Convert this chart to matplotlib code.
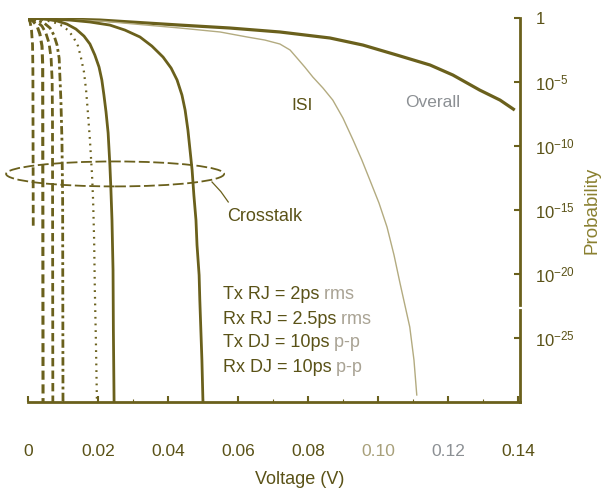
import matplotlib
matplotlib.use('Agg')
import matplotlib.pyplot as plt
from matplotlib.patches import Ellipse
from matplotlib.ticker import NullLocator, MultipleLocator
import numpy as np

# ---------------- data (voltage in V, log10 of probability) ----------------
overall_v = [0, 0.0206, 0.0434, 0.0577, 0.072, 0.0863, 0.0957, 0.1054, 0.1149, 0.1214, 0.1291, 0.1349, 0.1391]
overall_e = [0, -0.16, -0.55, -0.78, -1.09, -1.56, -2.11, -2.89, -3.67, -4.45, -5.63, -6.41, -7.19]

isi_v = [0, 0.0206, 0.0434, 0.0549, 0.0626, 0.0677, 0.072, 0.0749, 0.0769, 0.0791, 0.0814, 0.0843,
         0.0871, 0.09, 0.0929, 0.0954, 0.0977, 0.1003, 0.1026, 0.1046, 0.1063, 0.1077, 0.1091, 0.1103, 0.1111]
isi_e = [0, -0.23, -0.78, -1.09, -1.48, -1.72, -2.03, -2.5, -3.13, -3.83, -4.61, -5.47,
         -6.41, -7.81, -9.53, -11.09, -12.66, -14.45, -16.33, -18.52, -20.7, -22.42, -24.14, -26.72, -29.45]

rj_outer_v = [0, 0.0063, 0.012, 0.0177, 0.0234, 0.0277, 0.032, 0.0354, 0.0386, 0.0409, 0.0426, 0.044,
              0.0449, 0.0457, 0.0463, 0.0469, 0.0474, 0.048, 0.0483, 0.0489, 0.0491, 0.0494, 0.0497, 0.05]
rj_outer_e = [0, -0.08, -0.16, -0.31, -0.55, -0.94, -1.48, -2.19, -3.05, -3.91, -4.84, -6.02,
              -7.19, -8.75, -10.31, -11.88, -13.83, -15.78, -17.73, -20.08, -22.03, -24.38, -26.72, -30]

rj_inner_v = [0, 0.0049, 0.0083, 0.0111, 0.0137, 0.016, 0.0177, 0.0191, 0.0203, 0.0211, 0.0217,
              0.0223, 0.0229, 0.0234, 0.0237, 0.024, 0.0243, 0.0244, 0.0246]
rj_inner_e = [0, -0.08, -0.23, -0.47, -0.86, -1.41, -2.03, -2.89, -3.83, -4.84, -6.02,
              -7.34, -8.98, -11.48, -13.44, -15.78, -19.69, -24.38, -30]

dotted_v = [0, 0.0049, 0.008, 0.01, 0.0117, 0.0131, 0.0143, 0.0151, 0.016, 0.0166, 0.0171,
            0.0177, 0.0183, 0.0186, 0.0189, 0.0191, 0.0194, 0.0197]
dotted_e = [0, -0.16, -0.39, -0.63, -1.02, -1.56, -2.19, -3.05, -4.22, -5.63, -7.34,
            -9.53, -12.27, -14.22, -17.34, -21.25, -25.16, -30]

dashdot_v = [0, 0.0026, 0.0046, 0.0063, 0.0074, 0.0083, 0.0089, 0.0091, 0.0094, 0.0097, 0.0099, 0.01]
dashdot_e = [0, -0.16, -0.39, -0.78, -1.33, -2.11, -3.13, -4.45, -6.41, -9.53, -14.22, -30]

dashed_c_v = [0, 0.0023, 0.004, 0.0051, 0.006, 0.0066, 0.0069, 0.007, 0.0071]
dashed_c_e = [0, -0.23, -0.63, -1.17, -1.95, -3.13, -4.84, -7.97, -30]

dashed_b_v = [0, 0.0014, 0.0026, 0.0034, 0.004, 0.0042, 0.0043]
dashed_b_e = [0, -0.23, -0.63, -1.25, -2.19, -3.67, -30]

dashed_a_v = [0, 0.0006, 0.001, 0.0013, 0.0014, 0.0015]
dashed_a_e = [0, -0.31, -0.94, -2.11, -4.06, -16.33]

x_ticks = [0, 0.02, 0.04, 0.06, 0.08, 0.10, 0.12, 0.14]
x_tick_labels = ['0', '0.02', '0.04', '0.06', '0.08', '0.10', '0.12', '0.14']
y_ticks = [1, 1e-5, 1e-10, 1e-15, 1e-20, 1e-25]
y_tick_labels = ['1', r'$10^{-5}$', r'$10^{-10}$', r'$10^{-15}$', r'$10^{-20}$', r'$10^{-25}$']
param_main = ['Tx RJ = 2ps', 'Rx RJ = 2.5ps', 'Tx DJ = 10ps', 'Rx DJ = 10ps']
param_unit = [' rms', ' rms', ' p-p', ' p-p']

# ---------------- style ----------------
plt.rcParams['font.family'] = ['Liberation Sans', 'DejaVu Sans']
plt.rcParams['mathtext.fontset'] = 'custom'
plt.rcParams['mathtext.rm'] = 'Liberation Sans'
plt.rcParams['mathtext.it'] = 'Liberation Sans:italic'
plt.rcParams['mathtext.default'] = 'regular'

OLIVE = '#6a601c'
TEXT = '#5a5217'
LIGHT = '#b3ab80'
GREY = '#8c9094'

fig = plt.figure(figsize=(6.14, 4.97), dpi=100)
ax = fig.add_axes([0.0456, 0.1911, 0.8013, 0.7726])

def P(e):
    return 10.0 ** np.asarray(e, dtype=float)

ax.plot(overall_v, P(overall_e), color=OLIVE, lw=2.3, solid_capstyle='butt')
ax.plot(isi_v, P(isi_e), color=LIGHT, lw=1.0)
ax.plot(rj_outer_v, P(rj_outer_e), color=OLIVE, lw=2.0)
ax.plot(rj_inner_v, P(rj_inner_e), color=OLIVE, lw=2.0)
ax.plot(dotted_v, P(dotted_e), color=OLIVE, lw=1.6, linestyle=(0, (0.8, 2.2)))
ax.plot(dashdot_v, P(dashdot_e), color=OLIVE, lw=2.0, linestyle=(0, (3, 1.2, 1, 1.2)))
ax.plot(dashed_c_v, P(dashed_c_e), color=OLIVE, lw=2.0, linestyle=(0, (3, 1.5)))
ax.plot(dashed_b_v, P(dashed_b_e), color=OLIVE, lw=2.2, linestyle=(0, (3, 1.5)))
ax.plot(dashed_a_v, P(dashed_a_e), color=OLIVE, lw=2.0, linestyle=(0, (3, 1.5)))

ax.set_yscale('log')
ax.set_xlim(0, 0.1406)
ax.set_ylim(1e-30, 1)

for s in ['left', 'top']:
    ax.spines[s].set_visible(False)
for s in ['right', 'bottom']:
    ax.spines[s].set_color(OLIVE)
    ax.spines[s].set_linewidth(2.0)
# small break in the right axis line, as in the scanned original
ax.spines['right'].set_bounds(10.0 ** -22.4, 1)
ax.plot([1, 1], [0, 0.24], transform=ax.transAxes, color=OLIVE, lw=2.0,
        clip_on=False, solid_capstyle='projecting')

ax.yaxis.tick_right()
ax.set_yticks(y_ticks)
ax.set_yticklabels(y_tick_labels)
ax.yaxis.set_minor_locator(NullLocator())
ax.tick_params(axis='y', which='major', direction='in', length=4, width=1.5,
               color=OLIVE, labelcolor=TEXT, labelsize=12, pad=11)

ax.set_xticks(x_ticks)
ax.set_xticklabels(x_tick_labels)
ax.xaxis.set_minor_locator(MultipleLocator(0.01))
ax.tick_params(axis='x', which='major', direction='in', length=4, width=1.5,
               color=OLIVE, labelcolor=TEXT, labelsize=12.5, pad=30)
ax.tick_params(axis='x', which='minor', direction='in', length=2, width=0.8, color=OLIVE)
for lbl in ax.get_xticklabels():
    if lbl.get_text() == '0.10':
        lbl.set_color('#a8a07a')
    elif lbl.get_text() == '0.12':
        lbl.set_color(GREY)

ax.set_xlabel('Voltage (V)', fontsize=13, color=TEXT, va='center')
ax.xaxis.set_label_coords(0.553, -0.203)
ax.yaxis.set_label_position('right')
ax.set_ylabel('Probability', fontsize=13.5, color='#8a8030', rotation=90, va='center')
ax.yaxis.set_label_coords(1.146, 0.5)

# Crosstalk ellipse and leader
ell = Ellipse((0.177, 0.594), 0.443, 0.065, transform=ax.transAxes, fill=False,
              edgecolor=OLIVE, lw=1.3, linestyle=(0, (6, 2)), clip_on=False)
ax.add_patch(ell)
ax.plot([0.374, 0.392, 0.407], [0.573, 0.548, 0.521], transform=ax.transAxes,
        color=OLIVE, lw=0.9, clip_on=False)
ax.text(0.404, 0.482, 'Crosstalk', transform=ax.transAxes, fontsize=13,
        color=TEXT, ha='left', va='center')

ax.text(0.557, 0.773, 'ISI', transform=ax.transAxes, fontsize=12.5,
        color=TEXT, ha='center', va='center')
ax.text(0.823, 0.779, 'Overall', transform=ax.transAxes, fontsize=12.5,
        color=GREY, ha='center', va='center')

ys = [0.279, 0.216, 0.154, 0.091]
for y, main, unit in zip(ys, param_main, param_unit):
    t = ax.text(0.396, y, main, transform=ax.transAxes, fontsize=13,
                color=TEXT, ha='left', va='center')
    ax.annotate(unit, xy=(1, 0.5), xycoords=t, fontsize=13, color='#a9a394',
                ha='left', va='center')

fig.savefig('out.png', dpi=100, facecolor='white')
